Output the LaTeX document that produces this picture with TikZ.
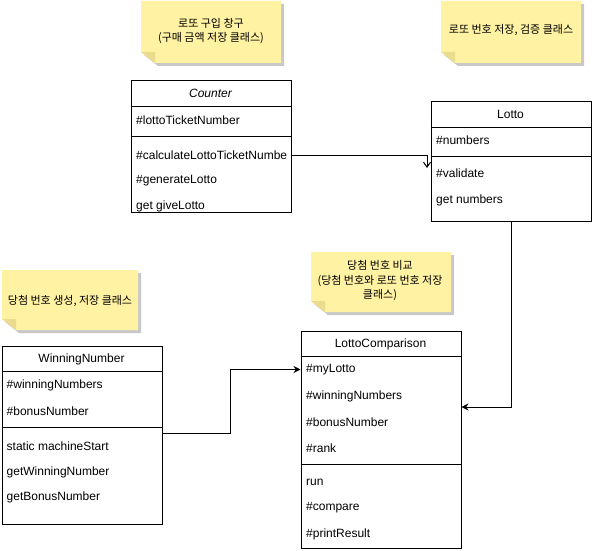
\documentclass[tikz,border=0pt]{standalone}
\usepackage{fontspec}
\setmainfont{Liberation Sans}
\newfontfamily\kr{Noto Sans CJK KR}
\usetikzlibrary{arrows.meta}
\definecolor{notefill}{HTML}{FFF2A2}
\definecolor{foldfill}{HTML}{EADB8E}
\definecolor{shadowc}{HTML}{C8C8C8}
\newcommand\drawnote[4]{%
  \fill[shadowc] (#1+3,#2+3) -- (#3+3,#2+3) -- (#3+3,#4+3) -- (#1+17,#4+3) -- (#1+3,#4-8) -- cycle;
  \fill[notefill] (#1,#2) -- (#3,#2) -- (#3,#4) -- (#1+14,#4) -- (#1,#4-11) -- cycle;
  \fill[foldfill] (#1,#4-11) -- (#1+14,#4-11) -- (#1+14,#4) -- cycle;
}
\begin{document}
\begin{tikzpicture}[x=1pt,y=-1pt,
  box/.style={draw=black, line width=1pt, fill=white, anchor=north west, inner sep=0pt, minimum width=160pt},
  lbl/.style={anchor=west, inner sep=0pt, font=\fontsize{12}{14}\selectfont},
  ttl/.style={anchor=center, inner sep=0pt, font=\fontsize{12}{14}\selectfont},
  sep/.style={line width=1pt},
  conn/.style={line width=1pt, draw=black},
  notetext/.style={align=center, inner sep=0pt, font=\kr\fontsize{11}{14.5}\selectfont},
]
\useasboundingbox[fill=white] (0,0) rectangle (592,551);

% ---------- notes ----------
\drawnote{141}{1}{281}{63}
\node[notetext] (note1) at (211,31) {로또 구입 창구\\(구매 금액 저장 클래스)};
\drawnote{441}{1}{581}{63}
\node[notetext] (note2) at (511,29.5) {로또 번호 저장, 검증 클래스};
\drawnote{2}{270}{138}{330}
\node[notetext] (note3) at (70,300.5) {당첨 번호 생성, 저장 클래스};
\drawnote{311}{252}{451}{312}
\node[notetext] (note4) at (380,281) {당첨 번호 비교\\(당첨 번호와 로또 번호 저장\\클래스)};

% ---------- Counter ----------
\node[box, minimum height=131pt] (counter) at (130.5,80.5) {};
\draw[sep] (130.5,106.5) -- (290.5,106.5);
\draw[sep] (130.5,136.5) -- (290.5,136.5);
\node[ttl, font=\fontsize{12}{14}\selectfont\itshape] (counterT) at (210.5,93) {Counter};
\node[lbl] (ca1) at (136,120.5) {\#lottoTicketNumber};
\node[lbl] (cm1) at (136,155.5) {\#calculateLottoTicketNumbe};
\node[lbl] (cm2) at (136,180.5) {\#generateLotto};
\node[lbl] (cm3) at (136,206) {get giveLotto};

% ---------- Lotto ----------
\node[box, minimum height=120pt] (lotto) at (430.5,100.5) {};
\draw[sep] (430.5,127.5) -- (590.5,127.5);
\draw[sep] (430.5,156.5) -- (590.5,156.5);
\node[ttl] (lottoT) at (510.5,114) {Lotto};
\node[lbl] (la1) at (436,140.5) {\#numbers};
\node[lbl] (lm1) at (436,173.5) {\#validate};
\node[lbl] (lm2) at (436,200) {get numbers};

% ---------- WinningNumber ----------
\node[box, minimum height=178pt] (winning) at (1.5,345.5) {};
\draw[sep] (1.5,371.5) -- (161.5,371.5);
\draw[sep] (1.5,427.5) -- (161.5,427.5);
\node[ttl] (winT) at (81.5,359.5) {WinningNumber};
\node[lbl] (wa1) at (6.5,385) {\#winningNumbers};
\node[lbl] (wa2) at (6.5,411) {\#bonusNumber};
\node[lbl] (wm1) at (6.5,446.5) {static machineStart};
\node[lbl] (wm2) at (6.5,472) {getWinningNumber};
\node[lbl] (wm3) at (6.5,497.5) {getBonusNumber};

% ---------- LottoComparison ----------
\node[box, minimum height=217pt] (cmp) at (300.5,330.5) {};
\draw[sep] (300.5,356.5) -- (460.5,356.5);
\draw[sep] (300.5,464.5) -- (460.5,464.5);
\node[ttl] (cmpT) at (380.5,344.5) {LottoComparison};
\node[lbl] (ka1) at (306,369.5) {\#myLotto};
\node[lbl] (ka2) at (306,396) {\#winningNumbers};
\node[lbl] (ka3) at (306,422) {\#bonusNumber};
\node[lbl] (ka4) at (306,448) {\#rank};
\node[lbl] (km1) at (306,482) {run};
\node[lbl] (km2) at (306,508) {\#compare};
\node[lbl] (km3) at (306,534) {\#printResult};

% ---------- connectors ----------
\coordinate (lottoIn) at (427,168);
\draw[conn, -{Straight Barb[length=5pt,width=7pt]}] (counter.east |- 0,155.5) -| (lottoIn);

\coordinate (cmpIn) at (cmp.east |- 0,407);
\draw[conn, -{Stealth[length=7pt,width=7pt]}] (lotto.south) |- (cmpIn);

\coordinate (bend3) at (230.5,433.5);
\draw[conn, -{Stealth[length=7pt,width=7pt]}] (winning.east |- bend3) -- (bend3) |- (cmp.west |- 0,369.5);
\end{tikzpicture}
\end{document}
